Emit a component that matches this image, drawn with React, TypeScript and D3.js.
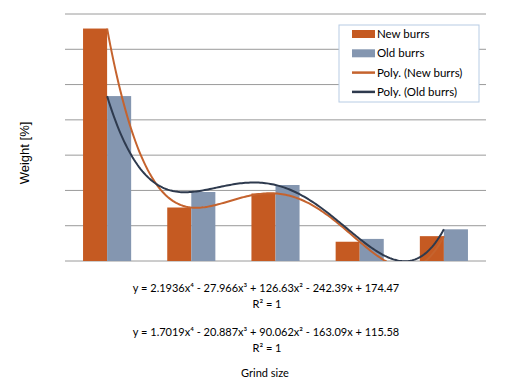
import React from "react";
import * as d3 from "d3";

const categories = ["1", "2", "3", "4", "5"];
const newBurrs = [32.94, 7.58, 9.57, 2.73, 3.52];
const oldBurrs = [23.37, 9.78, 10.77, 3.13, 4.49];
// polynomial trendline coefficients (x^4 ... x^0) as shown on chart
const newCoef = [2.1936, -27.966, 126.63, -242.39, 174.47];
const oldCoef = [1.7019, -20.887, 90.062, -163.09, 115.58];
const yTicks = [0, 5, 10, 15, 20, 25, 30, 35];
const eqNew = "y = 2.1936x⁴ - 27.966x³ + 126.63x² - 242.39x + 174.47";
const eqOld = "y = 1.7019x⁴ - 20.887x³ + 90.062x² - 163.09x + 115.58";
const r2Label = "R² = 1";
const seriesNames = ["New burrs", "Old burrs", "Poly. (New burrs)", "Poly. (Old burrs)"];

const W = 512, H = 386;
const left = 65, right = 486, top = 14, bottom = 261;
const cNew = "#C55A22";
const cOld = "#8496B0";
const cNewLine = "#C5632E";
const cOldLine = "#2E3A4E";
const narrow = "Lato, 'Noto Sans', sans-serif";

function poly(c: number[], x: number) {
  return c.reduce((acc, k) => acc * x + k, 0);
}

export default function App() {
  const x = d3.scaleBand().domain(categories).range([left, right]).paddingInner(0).paddingOuter(0);
  const inner = d3.scaleBand().domain(["n", "o"]).range([0, x.bandwidth()]).paddingInner(0).paddingOuter(0.75);
  const y = d3.scaleLinear().domain([0, 35]).range([bottom, top]);
  const xNum = d3.scaleLinear().domain([1, 5]).range([left + x.bandwidth() / 2, right - x.bandwidth() / 2]);
  const samples = d3.range(1, 5.0001, 0.02);
  const line = (c: number[]) =>
    d3.line<number>().x((t) => xNum(t)).y((t) => y(poly(c, t))).curve(d3.curveLinear)(samples) || "";

  const legX = 339, legY = 25, legW = 140, legH = 77;
  return (
    <svg width={W} height={H} style={{ position: "absolute", left: 0, top: 0, background: "#fff" }}>
      <defs>
        <clipPath id="plot">
          <rect x={left} y={top - 5} width={right - left} height={bottom - top + 5} />
        </clipPath>
      </defs>
      <rect width={W} height={H} fill="#fff" />
      {yTicks.map((t) => (
        <line key={t} x1={left} x2={right} y1={y(t)} y2={y(t)} stroke="#9A9A9A" strokeWidth={1} />
      ))}
      {categories.map((c, i) => (
        <g key={c}>
          <rect x={x(c)! + inner("n")!} y={y(newBurrs[i])} width={inner.bandwidth()} height={bottom - y(newBurrs[i])} fill={cNew} />
          <rect x={x(c)! + inner("o")!} y={y(oldBurrs[i])} width={inner.bandwidth()} height={bottom - y(oldBurrs[i])} fill={cOld} />
        </g>
      ))}
      <g clipPath="url(#plot)">
        <path d={line(newCoef)} fill="none" stroke={cNewLine} strokeWidth={2} />
        <path d={line(oldCoef)} fill="none" stroke={cOldLine} strokeWidth={2} />
      </g>

      <rect x={legX} y={legY} width={legW} height={legH} fill="#fff" stroke="#B7CCE4" strokeWidth={1} />
      {seriesNames.map((s, i) => {
        const cy = 34 + i * 19.3;
        return (
          <g key={s}>
            {i < 2 ? (
              <rect x={352} y={cy - 4} width={23} height={8} fill={i === 0 ? cNew : cOld} />
            ) : (
              <line x1={352} x2={375} y1={cy} y2={cy} stroke={i === 2 ? cNewLine : cOldLine} strokeWidth={2.5} />
            )}
            <text x={377} y={cy} dy="0.35em" fontFamily={narrow} fontSize={11.5} fill="#000">{s}</text>
          </g>
        );
      })}

      <text transform="translate(24,153) rotate(-90)" textAnchor="middle" dy="0.35em" fontFamily="'Liberation Sans', Arial, sans-serif" fontSize={13} fill="#000">Weight [%]</text>

      <g fontFamily={narrow} fontSize={11} fill="#000" textAnchor="middle">
        <text x={266} y={288} dy="0.35em">{eqNew}</text>
        <text x={267} y={304} dy="0.35em">{r2Label}</text>
        <text x={266} y={332} dy="0.35em">{eqOld}</text>
        <text x={267} y={348} dy="0.35em">{r2Label}</text>
        <text x={265} y={373} dy="0.35em">Grind size</text>
      </g>
    </svg>
  );
}
